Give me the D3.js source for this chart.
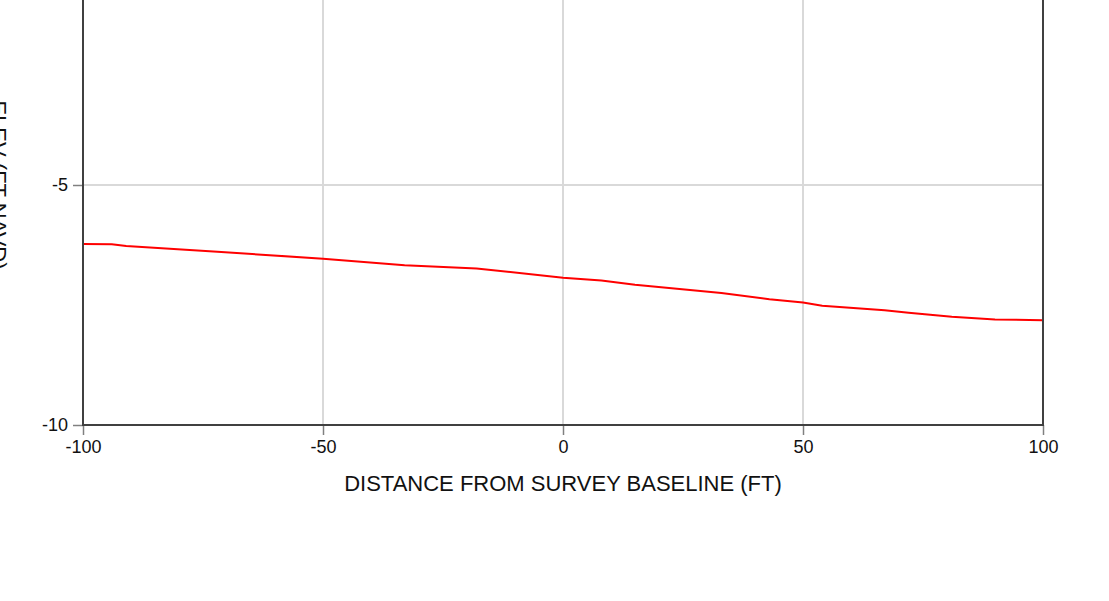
<!DOCTYPE html>
<html>
<head>
<meta charset="utf-8">
<script src="https://cdn.jsdelivr.net/npm/d3@7"></script>
<style>
  html, body { margin: 0; padding: 0; background: #fff; }
  svg { display: block; font-family: "Liberation Sans", Arial, sans-serif; }
</style>
</head>
<body>
<svg id="chart" width="1109" height="601"></svg>
<script>
const distance = [-100, -94, -91, -72, -50, -33, -18, 0, 8, 15, 33, 43, 50, 54, 67, 72, 81, 90, 100];
const elevation = [-6.23, -6.235, -6.27, -6.39, -6.535, -6.673, -6.74, -6.93, -6.99, -7.08, -7.25, -7.38, -7.45, -7.515, -7.61, -7.66, -7.745, -7.80, -7.82];
const xTicks = [-100, -50, 0, 50, 100];
const yTicks = [-10, -5];
const xTitle = "DISTANCE FROM SURVEY BASELINE (FT)";
const yTitle = "ELEV (FT NAVD)";

const svg = d3.select("#chart");
const L = 83, R = 1043, T = -55, B = 425;
const x = d3.scaleLinear().domain([-100, 100]).range([L, R]);
const y = d3.scaleLinear().domain([-10, 0]).range([B, T]);
const fmt = d => String(d);

// gridlines
const grid = svg.append("g");
grid.selectAll("line.vx").data(xTicks.filter(d => d > -100 && d < 100)).join("line")
  .attr("x1", d => x(d)).attr("x2", d => x(d)).attr("y1", T).attr("y2", B)
  .attr("stroke", "#d9d9d9").attr("stroke-width", 2);
grid.selectAll("line.hy").data(yTicks.filter(d => d > -10 && d < 0)).join("line")
  .attr("y1", d => y(d)).attr("y2", d => y(d)).attr("x1", L).attr("x2", R)
  .attr("stroke", "#d9d9d9").attr("stroke-width", 2);

// data line
const line = d3.line().x((d, i) => x(distance[i])).y(d => y(d));
svg.append("path").datum(elevation)
  .attr("d", line).attr("fill", "none")
  .attr("stroke", "#ff0000").attr("stroke-width", 2);

// axes
const xAxis = d3.axisBottom(x).tickValues(xTicks).tickSize(10).tickPadding(5).tickFormat(fmt);
const yAxis = d3.axisLeft(y).tickValues(yTicks).tickSize(10).tickPadding(5).tickFormat(fmt);
const gx = svg.append("g").attr("transform", `translate(0,${B})`).call(xAxis);
const gy = svg.append("g").attr("transform", `translate(${L},0)`).call(yAxis);
[gx, gy].forEach(g => {
  g.select(".domain").remove();
  g.selectAll(".tick line").attr("stroke", "#808080").attr("stroke-width", 1.5);
  g.selectAll(".tick text").attr("fill", "#111").style("font-size", "18px")
    .style("font-family", "'Liberation Sans', Arial, sans-serif");
});

// frame
svg.append("rect").attr("x", L).attr("y", T).attr("width", R - L).attr("height", B - T)
  .attr("fill", "none").attr("stroke", "#404040").attr("stroke-width", 2);

// titles
svg.append("text").attr("x", (L + R) / 2).attr("y", 491)
  .attr("text-anchor", "middle").attr("fill", "#111").style("font-size", "22px")
  .text(xTitle);
svg.append("text").attr("transform", `translate(-9,${(T + B) / 2}) rotate(90)`)
  .attr("text-anchor", "middle").attr("fill", "#111").style("font-size", "22px")
  .text(yTitle);
</script>
</body>
</html>
